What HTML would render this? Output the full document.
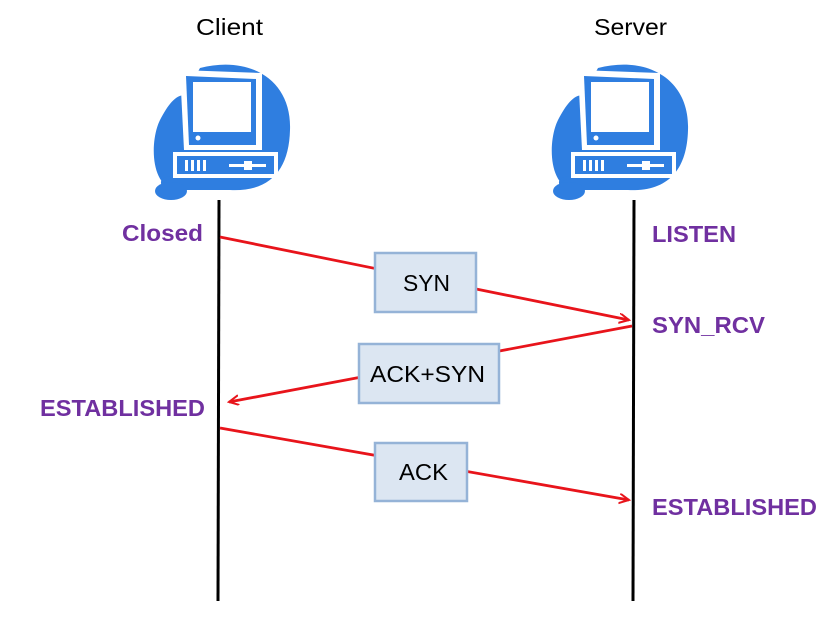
<!DOCTYPE html>
<html><head><style>
body{margin:0;background:#fff;width:836px;height:621px;overflow:hidden}
</style></head><body>
<svg width="836" height="621" viewBox="0 0 836 621" xmlns="http://www.w3.org/2000/svg">
<defs>
<g id="pc">
  <path d="M200,68 C250,55 292,80 290,130 C289,170 270,192 230,190 L175,190 C150,185 150,140 160,120 C168,105 175,95 185,95 Z" fill="#2f7ee0"/>
  <polygon points="180,70 262,73 262,150 184,150" fill="#fff"/>
  <polygon points="186,76 256,79 256,145 189,145" fill="#2f7ee0"/>
  <rect x="193" y="82" width="58" height="50" fill="#fff"/>
  <circle cx="198" cy="138" r="2.5" fill="#fff"/>
  <rect x="173" y="152" width="105" height="26" fill="#fff"/>
  <rect x="177" y="156" width="97" height="18" fill="#2f7ee0"/>
  <rect x="185" y="160" width="3" height="11" fill="#fff"/>
  <rect x="191" y="160" width="3" height="11" fill="#fff"/>
  <rect x="197" y="160" width="3" height="11" fill="#fff"/>
  <rect x="203" y="160" width="3" height="11" fill="#fff"/>
  <rect x="229" y="164" width="37" height="3" fill="#fff"/>
  <rect x="244" y="161" width="8" height="9" fill="#fff"/>
  <path d="M172,178 C160,178 160,185 168,188" stroke="#2f7ee0" stroke-width="3" fill="none"/>
  <ellipse cx="171" cy="191" rx="16" ry="9" fill="#2f7ee0"/>
</g>
<marker id="ah" markerWidth="12" markerHeight="12" refX="10" refY="5" orient="auto" markerUnits="userSpaceOnUse">
  <path d="M0,0 L10,5 L0,10" fill="none" stroke="#e8141b" stroke-width="2"/>
</marker>
</defs>
<g font-family="Liberation Sans, sans-serif">
<text x="196" y="35" font-size="23" textLength="67" lengthAdjust="spacingAndGlyphs">Client</text>
<text x="594" y="35" font-size="23" textLength="73" lengthAdjust="spacingAndGlyphs">Server</text>
</g>
<use href="#pc"/>
<use href="#pc" transform="translate(398,0)"/>
<line x1="219" y1="200" x2="218" y2="601" stroke="#000" stroke-width="3"/>
<line x1="634" y1="200" x2="633" y2="601" stroke="#000" stroke-width="3"/>
<g stroke="#e8141b" stroke-width="2.8">
<line x1="220" y1="237" x2="629" y2="320" marker-end="url(#ah)"/>
<line x1="632" y1="326" x2="229" y2="402" marker-end="url(#ah)"/>
<line x1="220" y1="428" x2="629" y2="500" marker-end="url(#ah)"/>
</g>
<g fill="#dce6f2" stroke="#95b3d7" stroke-width="2.5">
<rect x="375" y="253" width="101" height="59"/>
<rect x="359" y="344" width="140" height="59"/>
<rect x="375" y="443" width="92" height="58"/>
</g>
<g font-family="Liberation Sans, sans-serif" font-size="23" fill="#000">
<text x="403" y="291" textLength="47" lengthAdjust="spacingAndGlyphs">SYN</text>
<text x="370" y="382" textLength="115" lengthAdjust="spacingAndGlyphs">ACK+SYN</text>
<text x="399" y="480" textLength="49" lengthAdjust="spacingAndGlyphs">ACK</text>
</g>
<g font-family="Liberation Sans, sans-serif" font-size="23" font-weight="bold" fill="#7030a0" lengthAdjust="spacingAndGlyphs">
<text x="122" y="241" textLength="81" lengthAdjust="spacingAndGlyphs">Closed</text>
<text x="652" y="242" textLength="84" lengthAdjust="spacingAndGlyphs">LISTEN</text>
<text x="652" y="333" textLength="113" lengthAdjust="spacingAndGlyphs">SYN_RCV</text>
<text x="40" y="416" textLength="165" lengthAdjust="spacingAndGlyphs">ESTABLISHED</text>
<text x="652" y="515" textLength="165" lengthAdjust="spacingAndGlyphs">ESTABLISHED</text>
</g>
</svg>
</body></html>
